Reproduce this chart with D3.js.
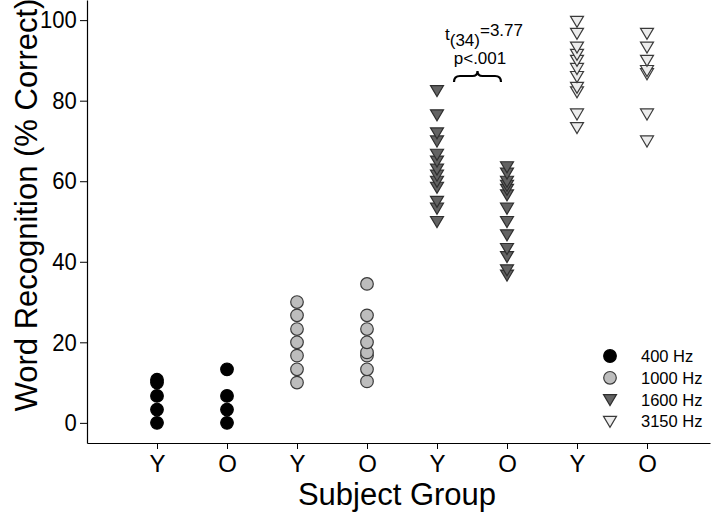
<!DOCTYPE html>
<html>
<head>
<meta charset="utf-8">
<script src="https://cdn.jsdelivr.net/npm/d3@7"></script>
<style>
  body { margin: 0; background: #fff; }
  svg text { font-family: "Liberation Sans", Arial, sans-serif; }
</style>
</head>
<body>
<svg id="chart" width="720" height="515"></svg>
<script>
// x categories (subject group under each frequency)
const groups = ['Y', 'O', 'Y', 'O', 'Y', 'O', 'Y', 'O']
const yTicks = [0, 20, 40, 60, 80, 100]

// word recognition scores (% correct)
const y400 = [0, 3.3, 6.7, 10, 10.7]
const o400 = [0, 3.3, 6.7, 13.3]
const y1000 = [10, 13.3, 16.7, 20, 23.3, 26.7, 30]
const o1000 = [10.3, 13.3, 16.7, 17.5, 20, 23.3, 26.7, 34.5]
const y1600 = [50, 53.3, 55, 58.5, 60, 61.5, 63, 65, 66.7, 70, 72, 76.5, 82.5]
const o1600 = [36.7, 38, 41.3, 43.3, 46.7, 50, 53.3, 56.6, 58, 59, 60, 62, 63.6]
const y3150 = [73.3, 76.7, 82.2, 83.3, 86, 88, 90, 91.5, 93.3, 96.7, 99.7]
const o3150 = [70, 76.7, 86.7, 87.5, 90, 93.3, 96.7]

const legendLabels = ['400 Hz', '1000 Hz', '1600 Hz', '3150 Hz']

const series = [
  {values: y400, col: 0, kind: 0},
  {values: o400, col: 1, kind: 0},
  {values: y1000, col: 2, kind: 1},
  {values: o1000, col: 3, kind: 1},
  {values: y1600, col: 4, kind: 2},
  {values: o1600, col: 5, kind: 2},
  {values: y3150, col: 6, kind: 3},
  {values: o3150, col: 7, kind: 3}
]

const styles = [
  {shape: 'circle', fill: '#000', stroke: '#000'},
  {shape: 'circle', fill: '#bdbdbd', stroke: '#3a3a3a'},
  {shape: 'tri', fill: '#636363', stroke: '#2e2e2e'},
  {shape: 'tri', fill: '#ececec', stroke: '#3a3a3a'}
]

const svg = d3.select('#chart')

// scales
const x = d3.scaleLinear().domain([-1, 7.9]).range([87, 710])
const y = d3.scaleLinear().domain([-5, 105]).range([443, 0])

// downward triangle path
const triPath = 'M-6.5,-5L6.5,-5L0,6Z'

function drawMarker(sel, st) {
  if (st.shape === 'circle') {
    sel.append('circle').attr('r', 6.3)
      .attr('fill', st.fill).attr('stroke', st.stroke).attr('stroke-width', 1.2)
  } else {
    sel.append('path').attr('d', triPath)
      .attr('fill', st.fill).attr('stroke', st.stroke).attr('stroke-width', 1.2)
  }
}

// y axis
const yAxis = svg.append('g')
  .attr('transform', 'translate(87,0)')
  .call(d3.axisLeft(y).tickValues(yTicks).tickSize(7).tickSizeOuter(0))
yAxis.select('.domain').attr('stroke', '#000').attr('stroke-width', 1.2)
yAxis.selectAll('.tick line').attr('stroke', '#000')
yAxis.selectAll('.tick text')
  .attr('font-size', 24).attr('fill', '#000').attr('x', -11)
  .attr('transform', 'scale(0.92,1)')

// x axis
const xAxis = svg.append('g')
  .attr('transform', 'translate(0,443)')
  .call(d3.axisBottom(x).tickValues(d3.range(groups.length))
    .tickFormat(function(i) { return groups[i] })
    .tickSize(6).tickSizeOuter(0))
xAxis.select('.domain').attr('stroke', '#000').attr('stroke-width', 1.2)
xAxis.selectAll('.tick line').attr('stroke', '#000')
xAxis.selectAll('.tick text')
  .attr('font-size', 24).attr('fill', '#000').attr('y', 12)

// axis titles
svg.append('text')
  .attr('transform', 'translate(37,205) rotate(-90)')
  .attr('text-anchor', 'middle')
  .attr('font-size', 31)
  .text('Word Recognition (% Correct)')

svg.append('text')
  .attr('x', 397).attr('y', 505)
  .attr('text-anchor', 'middle')
  .attr('font-size', 31)
  .text('Subject Group')

// data points
series.forEach(function(s) {
  s.values.forEach(function(v) {
    const g = svg.append('g')
      .attr('transform', 'translate(' + x(s.col) + ',' + y(v) + ')')
    drawMarker(g, styles[s.kind])
  })
})

// legend
const legend = svg.append('g')
legendLabels.forEach(function(lab, i) {
  const row = legend.append('g')
    .attr('transform', 'translate(610,' + (356 + i * 21.8) + ')')
  drawMarker(row, styles[i])
  row.append('text')
    .attr('x', 31).attr('y', 6)
    .attr('font-size', 16.5)
    .text(lab)
})

// significance annotation between Y and O at 1600 Hz
const ann = svg.append('g')
const t = ann.append('text').attr('x', 445).attr('y', 40).attr('font-size', 17)
t.append('tspan').text('t')
t.append('tspan').attr('dy', 6).text('(34)')
t.append('tspan').attr('dy', -10).text('=3.77')
ann.append('text')
  .attr('x', 480).attr('y', 64)
  .attr('text-anchor', 'middle')
  .attr('font-size', 17)
  .text('p<.001')

// curly brace
const bl = x(4) + 17, br = x(5) - 6, bt = 71, bb = 82, bm = (bl + br) / 2
ann.append('path')
  .attr('d', 'M' + bl + ',' + bb +
    ' Q' + bl + ',' + (bt + 5) + ' ' + (bl + 6) + ',' + (bt + 5) +
    ' L' + (bm - 5) + ',' + (bt + 5) +
    ' Q' + bm + ',' + (bt + 5) + ' ' + bm + ',' + bt +
    ' Q' + bm + ',' + (bt + 5) + ' ' + (bm + 5) + ',' + (bt + 5) +
    ' L' + (br - 6) + ',' + (bt + 5) +
    ' Q' + br + ',' + (bt + 5) + ' ' + br + ',' + bb)
  .attr('fill', 'none')
  .attr('stroke', '#000')
  .attr('stroke-width', 2.2)
</script>
</body>
</html>
